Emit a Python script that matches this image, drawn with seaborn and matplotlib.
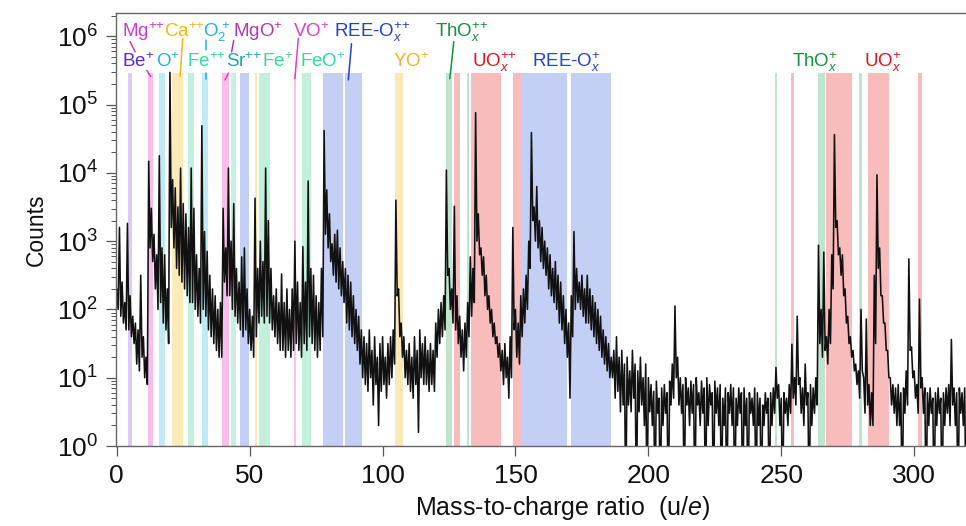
import numpy as np
import pandas as pd
import matplotlib
matplotlib.use("Agg")
import matplotlib.pyplot as plt
import seaborn as sns
from matplotlib.ticker import LogLocator, LogFormatterSciNotation, FixedLocator, NullFormatter

# ---------------- data ----------------
# log10(counts) at integer mass m (spike tops) and at m+0.5 (valleys); -1 = zero counts
mass = list(range(0, 320))
hi_log = [
    2.3, 3.2, 2.4, 2.1, 3.26, 2.2, 1.9, 1.8, 1.7, 2.5,
    1.6, 1.3, 4.17, 3.48, 3.1, 2.8, 4.25, 2.9, 2.8, 2.3,
    5.47, 3.9, 3.78, 3.5, 4.07, 3.55, 3.4, 3.2, 4.07, 3.48,
    2.8, 2.6, 4.69, 3.14, 2.85, 2.5, 2.3, 2.2, 2.0, 2.1,
    3.48, 2.9, 4.07, 3.0, 3.55, 2.6, 2.4, 2.77, 2.9, 2.3,
    2.0, 1.9, 3.63, 2.6, 3.0, 2.7, 4.07, 3.3, 2.6, 2.2,
    2.3, 2.1, 2.52, 2.1, 2.3, 2.0, 2.3, 3.0, 2.4, 2.1,
    2.92, 2.4, 3.88, 2.6, 2.5, 2.2, 2.1, 2.6, 4.62, 3.75,
    3.4, 2.96, 3.1, 3.16, 2.9, 2.7, 2.6, 2.5, 2.4, 2.2,
    2.0, 1.9, 1.7, 1.6, 1.5, 1.7, 1.4, 1.6, 1.3, 1.5,
    1.6, 1.3, 1.5, 1.6, 1.7, 3.6, 2.3, 1.8, 1.6, 1.4,
    1.5, 1.3, 1.6, 1.4, 1.7, 1.5, 1.6, 1.4, 1.5, 1.4,
    1.8, 2.0, 2.1, 2.2, 4.04, 2.6, 2.3, 3.51, 2.2, 1.9,
    1.7, 1.8, 2.1, 2.77, 2.6, 4.88, 3.4, 2.9, 2.77, 2.5,
    2.2, 2.0, 1.8, 1.6, 1.5, 1.4, 1.5, 1.3, 1.6, 3.2,
    2.0, 1.8, 2.2, 2.3, 2.5, 3.0, 4.59, 3.5, 3.8, 3.3,
    3.2, 3.0, 2.9, 2.8, 2.6, 2.7, 2.5, 2.4, 2.2, 2.0,
    1.8, 2.2, 3.14, 2.6, 2.4, 2.5, 2.3, 2.5, 2.3, 2.2,
    2.1, 2.0, 1.9, 1.7, 1.6, 1.5, 1.3, 1.4, 1.6, 1.3,
    1.4, 1.2, 1.3, 1.1, 1.4, 1.2, 1.1, 1.3, 1.0, 1.2,
    1.0, 0.9, 0.8, 0.95, 0.7, 0.85, 0.9, 0.78, 0.95, 1.2,
    2.05, 1.3, 1.0, 0.9, 1.0, 0.85, 0.95, 0.9, 1.0, 0.78,
    0.95, 0.85, 1.0, 0.9, 0.78, 0.95, 0.85, 0.9, 0.7, 0.85,
    0.78, 0.9, 0.85, 0.7, 0.85, 0.78, 0.85, 0.7, 0.78, 0.7,
    0.85, 0.78, 0.7, 0.6, 0.78, 0.7, 0.78, 0.85, 1.15, 0.9,
    0.7, 0.78, 0.7, 0.9, 1.49, 1.0, 1.9, 1.0, 0.85, 1.2,
    0.78, 0.9, 0.85, 1.0, 2.94, 2.0, 2.84, 1.6, 2.0, 2.8,
    4.56, 3.3, 2.9, 2.8, 2.3, 1.9, 1.6, 1.4, 1.2, 1.1,
    2.0, 1.0, 1.86, 0.9, 0.78, 2.5, 3.97, 2.9, 2.2, 1.8,
    1.4, 1.0, 0.9, 0.85, 0.9, 0.78, 0.85, 1.1, 2.74, 1.45,
    1.1, 0.9, 2.15, 1.0, 0.85, 0.78, 0.85, 0.7, 0.78, 0.85,
    0.7, 0.78, 0.85, 0.9, 1.56, 0.85, 0.78, 0.85, 0.78, 0.85,
]
lo_log = [
    2.0, 1.9, 1.8, 1.7, 1.7, 1.6, 1.5, 1.2, 1.1, 1.3,
    1.0, 0.9, 2.9, 2.7, 2.3, 2.0, 2.1, 1.8, 1.7, 1.5,
    3.2, 2.9, 2.6, 2.5, 2.4, 2.3, 2.2, 2.1, 2.1, 2.0,
    1.9, 1.8, 2.0, 1.9, 1.7, 1.6, 1.5, 1.4, 1.3, 1.3,
    2.4, 2.2, 2.2, 2.0, 1.9, 1.8, 1.7, 1.6, 1.7, 1.5,
    1.4, 1.3, 1.6, 1.8, 1.9, 1.8, 1.9, 1.8, 1.7, 1.6,
    1.5, 1.4, 1.4, 1.3, 1.4, 1.3, 1.4, 1.5, 1.4, 1.3,
    1.5, 1.4, 1.6, 1.5, 1.4, 1.3, 1.4, 1.6, 3.1, 2.9,
    2.7, 2.5, 2.4, 2.3, 2.2, 2.1, 1.8, 1.7, 1.6, 1.5,
    1.4, 1.2, 1.0, 0.9, 0.8, 1.0, 0.6, 0.9, 0.3, 0.8,
    0.9, 0.7, 0.9, 1.0, 1.2, 2.2, 1.6, 1.3, 1.0, 0.9,
    0.8, 0.7, 0.9, 0.2, 1.0, 0.9, 0.9, 0.8, 0.9, 0.8,
    1.3, 1.5, 1.6, 1.7, 2.5, 2.0, 1.8, 1.7, 1.5, 1.3,
    1.1, 1.3, 1.6, 1.9, 2.1, 3.0, 2.8, 2.5, 2.2, 2.0,
    1.8, 1.6, 1.5, 1.3, 1.1, 0.9, 1.0, 0.7, 1.0, 1.7,
    1.3, 1.2, 1.6, 1.8, 2.0, 2.6, 3.3, 3.0, 2.9, 2.7,
    2.6, 2.5, 2.3, 2.2, 2.1, 2.0, 1.8, 1.7, 1.5, 1.3,
    0.7, 1.6, 2.0, 2.1, 2.0, 1.9, 1.8, 1.8, 1.7, 1.6,
    1.5, 1.4, 1.3, 1.2, 1.1, 1.0, 1.0, 0.7, 0.8, 0.5,
    0.6, -1, 0.6, 0.5, 0.7, -1, 0.5, 0.6, 0.3, -1,
    0.5, 0.3, -1, 0.48, -1, 0.3, 0.48, -1, 0.6, 0.7,
    1.0, 0.6, 0.48, -1, 0.6, 0.3, 0.48, -1, 0.6, 0.3,
    0.48, -1, 0.3, 0.6, -1, 0.48, 0.3, -1, 0.3, -1,
    0.48, 0.3, -1, 0.3, 0.48, -1, 0.3, -1, 0.48, 0.3,
    -1, 0.3, -1, 0.3, 0.48, -1, 0.3, 0.48, 0.7, 0.3,
    -1, 0.48, 0.3, 0.48, 0.7, 0.6, 0.9, 0.48, 0.3, 0.6,
    -1, 0.3, 0.48, 0.6, 1.5, 1.3, 1.4, 1.2, 1.5, 2.3,
    3.2, 2.8, 2.5, 2.2, 1.8, 1.5, 1.3, 1.1, 0.9, 0.7,
    1.1, 0.48, 0.6, 0.3, 0.3, 1.5, 2.6, 2.2, 1.8, 1.4,
    1.0, 0.6, 0.48, 0.3, 0.3, -1, 0.48, 0.6, 1.4, 1.0,
    0.7, 0.48, 0.85, 0.48, -1, 0.3, 0.48, -1, 0.3, 0.48,
    -1, 0.3, 0.48, 0.3, 0.6, 0.3, -1, 0.48, 0.3, -1,
]

# highlighted mass windows (u/e) and the species they belong to
band_start = [4.2, 11.8, 15.9, 20.8, 26.8, 32.1, 39.6, 43.0, 46.4, 52.0, 53.5, 66.7, 69.7,
              77.6, 85.8, 104.6, 123.8, 126.8, 131.6, 133.4, 148.9, 151.9, 170.8,
              247.5, 253.8, 263.8, 266.9, 279.4, 282.8, 301.6]
band_end = [5.8, 13.6, 18.2, 24.9, 29.1, 34.3, 42.2, 44.8, 49.7, 52.7, 57.6, 67.4, 73.0,
            85.1, 92.2, 107.5, 126.1, 129.1, 132.6, 144.4, 151.9, 169.4, 185.8,
            248.5, 254.7, 266.3, 276.5, 280.3, 290.7, 303.0]
band_kind = ["Be", "Mg", "O", "Ca", "Fe", "O2", "MgO", "Sr", "REE", "Y", "Fe", "VO", "Fe",
             "REE", "REE", "Y", "Th", "U", "Th", "U", "U", "REE", "REE",
             "Th", "U", "Th", "U", "Th", "U", "U"]

# species labels: text, kind, mass position, log10(count) baseline
label_text = ["Mg$^{+{+}}$", "Ca$^{+{+}}$", "O$_2^{\\,+}$", "MgO$^{+}$", "VO$^{+}$",
              "REE-O$_x^{+{+}}$", "ThO$_x^{+{+}}$",
              "Be$^{+}$", "O$^{+}$", "Fe$^{+{+}}$", "Sr$^{+{+}}$", "Fe$^{+}$", "FeO$^{+}$",
              "YO$^{+}$", "UO$_x^{+{+}}$", "REE-O$_x^{+}$", "ThO$_x^{+}$", "UO$_x^{+}$"]
label_kind = ["Mg", "Ca", "O2", "MgO", "VO", "REE", "Th",
              "Be", "O", "Fe", "Sr", "Fe", "FeO", "Y", "U", "REE", "Th", "U"]
label_mass = [1.9, 17.6, 32.6, 43.6, 66.2, 81.8, 119.7,
              1.9, 14.8, 26.3, 41.0, 54.5, 68.9, 104.0, 133.8, 156.4, 254.1, 281.3]
label_logc = [5.99, 5.99, 5.99, 5.99, 5.99, 5.99, 5.99,
              5.55, 5.55, 5.55, 5.55, 5.55, 5.55, 5.55, 5.55, 5.55, 5.55, 5.55]

# leader lines: kind, (mass0, log0) -> (mass1, log1)
lead_kind = ["Mg", "Mg", "Ca", "O2", "O2", "MgO", "VO_l", "VO", "REE", "Th"]
lead_m0 = [5.0, 11.3, 24.8, 33.6, 33.6, 44.0, 42.0, 68.3, 88.3, 126.8]
lead_l0 = [5.92, 5.50, 5.97, 5.94, 5.46, 5.94, 5.46, 5.97, 5.89, 5.92]
lead_m1 = [6.9, 12.8, 23.8, 33.6, 33.6, 43.2, 40.7, 67.0, 87.1, 125.3]
lead_l1 = [5.77, 5.41, 5.41, 5.80, 5.38, 5.77, 5.36, 5.38, 5.36, 5.38]

# ---------------- styles ----------------
band_colors = {"Be": "#dccaf7", "Mg": "#f9bdeb", "O": "#bfeaf7", "O2": "#bfeaf7",
               "Ca": "#fdebb7", "Fe": "#c1f1dd", "MgO": "#f9bdeb", "Sr": "#c6efe6",
               "REE": "#c4cff6", "Y": "#fde6b8", "VO": "#f9c4ea", "Th": "#c0e5cf",
               "U": "#f9bcbc"}
text_colors = {"Mg": "#cc3acb", "Ca": "#f2b81c", "O2": "#26aee0", "MgO": "#b633b8",
               "VO": "#e23fc4", "REE": "#2243d0", "Th": "#15923c", "Be": "#6126d4",
               "O": "#26aee0", "Fe": "#34d99a", "Sr": "#1fa6a6", "FeO": "#34d99a",
               "Y": "#f2b32a", "U": "#e2141e", "VO_l": "#e23fc4"}

sns.set_theme(style="ticks")
plt.rcParams["font.family"] = ["Liberation Sans", "DejaVu Sans"]
plt.rcParams["mathtext.fontset"] = "custom"
plt.rcParams["mathtext.rm"] = "Liberation Sans"
plt.rcParams["mathtext.it"] = "Liberation Sans:italic"
plt.rcParams["mathtext.bf"] = "Liberation Sans:bold"

fig = plt.figure(figsize=(9.66, 5.26), dpi=100)
ax = fig.add_axes([116 / 966, 1 - 446 / 526, (966 - 116) / 966, (446 - 13) / 526])

# spectrum trace
x = np.empty(2 * len(mass))
y = np.empty(2 * len(mass))
x[0::2] = np.array(mass, dtype=float)
x[1::2] = np.array(mass, dtype=float) + 0.5
y[0::2] = 10 ** np.array(hi_log)
y[1::2] = 10 ** np.array(lo_log)
df = pd.DataFrame({"mass": x, "counts": y})

for s, e, k in zip(band_start, band_end, band_kind):
    ax.axvspan(s, e, ymin=0, ymax=0.861, color=band_colors[k], lw=0, zorder=0)

sns.lineplot(data=df, x="mass", y="counts", estimator=None, sort=False,
             color="#111111", lw=1.15, ax=ax, zorder=2)

ax.set_yscale("log")
ax.set_xlim(-0.3, 319.5)
ax.set_ylim(1, 10 ** 6.34)

for t, k, m, lc in zip(label_text, label_kind, label_mass, label_logc):
    ax.text(m, 10 ** lc, t, color=text_colors[k], fontsize=13.5, ha="left",
            va="baseline", zorder=4)

for k, m0, l0, m1, l1 in zip(lead_kind, lead_m0, lead_l0, lead_m1, lead_l1):
    ax.plot([m0, m1], [10 ** l0, 10 ** l1], color=text_colors[k], lw=1.1, zorder=4)

ax.xaxis.set_major_locator(FixedLocator([0, 50, 100, 150, 200, 250, 300]))
ax.yaxis.set_major_locator(LogLocator(base=10, numticks=10))
ax.yaxis.set_minor_locator(LogLocator(base=10, subs=np.arange(2, 10), numticks=10))
ax.yaxis.set_major_formatter(LogFormatterSciNotation())
ax.yaxis.set_minor_formatter(NullFormatter())

ax.tick_params(axis="both", which="major", direction="out", length=7, width=0.9,
               color="#555555", labelsize=19, labelcolor="#111111", pad=6)
ax.tick_params(axis="y", which="minor", direction="out", length=3.5, width=0.7,
               color="#555555")
for side in ["left", "bottom", "top"]:
    ax.spines[side].set_color("#666666")
    ax.spines[side].set_linewidth(1.0)
ax.spines["right"].set_visible(False)

ax.set_xlabel("Mass-to-charge ratio  (u/$\\mathit{e}$)", fontsize=18, color="#111111")
ax.xaxis.set_label_coords(0.525, -0.112)
ax.set_ylabel("Counts", fontsize=16.5, labelpad=6, color="#111111")

fig.savefig("out.png", dpi=100)
